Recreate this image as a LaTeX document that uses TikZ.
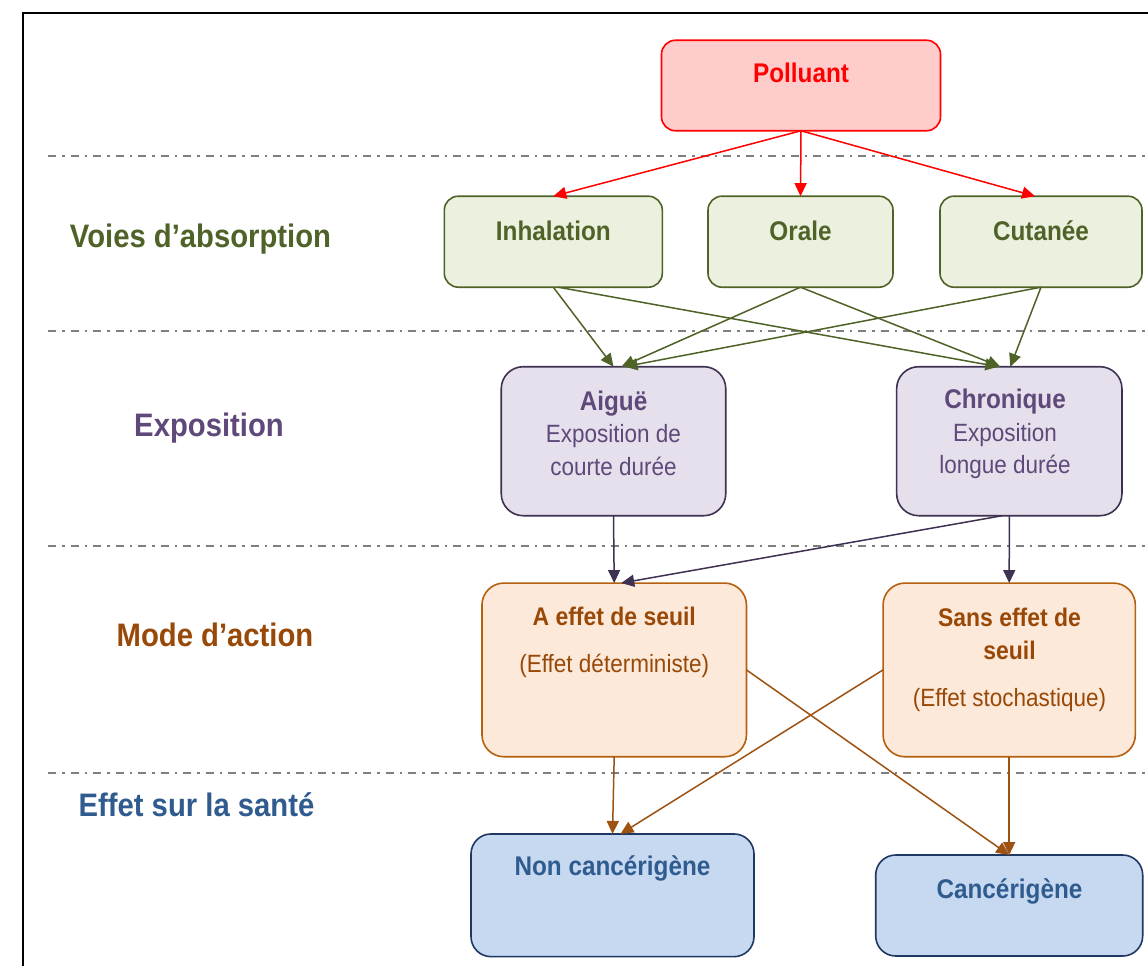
\documentclass[tikz,border=0pt]{standalone}
\usepackage{fontspec}
\setmainfont{Liberation Sans}[FakeStretch=0.9]
\usetikzlibrary{arrows.meta,calc}

% palette
\definecolor{polRed}{HTML}{FF0000}
\definecolor{polFill}{HTML}{FFCCCC}
\definecolor{voieLine}{HTML}{4F6228}
\definecolor{voieFill}{HTML}{EBF1DE}
\definecolor{expoLine}{HTML}{3F3151}
\definecolor{expoText}{HTML}{5F497A}
\definecolor{expoFill}{HTML}{E5E0EC}
\definecolor{modeLine}{HTML}{B4600F}
\definecolor{modeText}{HTML}{984807}
\definecolor{modeArrow}{HTML}{9E5212}
\definecolor{modeFill}{HTML}{FDE9D9}
\definecolor{santeLine}{HTML}{1F3864}
\definecolor{santeText}{HTML}{2F5B8F}
\definecolor{santeFill}{HTML}{C6D9F1}
\definecolor{sepGray}{HTML}{7F7F7F}

\begin{document}
\begin{tikzpicture}[x=1pt,y=-1pt,
  card/.style={draw, line width=1.6pt, inner sep=0pt, outer sep=0pt},
  polbox/.style={card, draw=polRed, fill=polFill, rounded corners=14pt},
  voiebox/.style={card, draw=voieLine, fill=voieFill, rounded corners=14pt},
  expobox/.style={card, draw=expoLine, fill=expoFill, rounded corners=22pt},
  modebox/.style={card, draw=modeLine, fill=modeFill, rounded corners=22pt},
  santebox/.style={card, draw=santeLine, fill=santeFill, rounded corners=20pt},
  boldtxt/.style={inner sep=0pt, anchor=base, align=center,
    font=\fontsize{27}{32.5}\selectfont\bfseries},
  % multi-line texts: the base anchor sits on the last line
  bodytxt/.style={inner sep=0pt, anchor=base, align=center,
    font=\fontsize{25}{32.5}\selectfont},
  rowtitle/.style={inner sep=0pt, anchor=base,
    font=\fontsize{32.5}{38}\selectfont\bfseries},
  sepline/.style={draw=sepGray, line width=2.2pt,
    dash pattern=on 8pt off 6pt on 2.5pt off 6pt},
  link/.style={line width=1.5pt, -{Triangle[length=13pt,width=12pt]}},
]
\fill[white] (0,0) rectangle (1148,966);
\useasboundingbox (0,0) rectangle (1148,966);

% outer frame (left and top edges)
\draw[line width=1.8pt] (22.7,966) -- (22.7,12.7) -- (1148,12.7);

% row separators
\foreach \yy in {155.7,331,545.7,773.3}
  \draw[sepline] (48,\yy) -- (1148,\yy);

% row titles
\node[rowtitle, text=voieLine] (tVoies) at (200.5,247.3) {Voies d’absorption};
\node[rowtitle, text=expoText] (tExpo) at (209,436) {Exposition};
\node[rowtitle, text=modeText] (tMode) at (215,646.7) {Mode d’action};
\node[rowtitle, text=santeText] (tSante) at (196.5,816.7) {Effet sur la santé};

% boxes
\node[polbox, minimum width=279pt, minimum height=90.5pt] (pol) at (801,85.5) {};
\node[voiebox, minimum width=218pt, minimum height=91pt] (inh) at (553.3,241.7) {};
\node[voiebox, minimum width=185pt, minimum height=91pt] (ora) at (800.5,241.7) {};
\node[voiebox, minimum width=202pt, minimum height=91pt] (cut) at (1041,241.7) {};
\node[expobox, minimum width=224.5pt, minimum height=149pt] (aig) at (613.5,441.2) {};
\node[expobox, minimum width=225.3pt, minimum height=149pt] (chr) at (1009.3,441.2) {};
\node[modebox, minimum width=264.5pt, minimum height=173.7pt] (aef) at (614.2,669.9) {};
\node[modebox, minimum width=252.3pt, minimum height=173.7pt] (sef) at (1009.2,669.9) {};
\node[santebox, minimum width=283pt, minimum height=122.7pt] (nonc) at (612.5,895.3) {};
\node[santebox, minimum width=267pt, minimum height=101pt] (canc) at (1009.2,905.5) {};

% box texts
\node[boldtxt, text=polRed] (polT) at (801,82) {Polluant};
\node[boldtxt, text=voieLine] (inhT) at (553.3,240.7) {Inhalation};
\node[boldtxt, text=voieLine] (oraT) at (800.5,240.7) {Orale};
\node[boldtxt, text=voieLine] (cutT) at (1041,240.7) {Cutanée};
\node[bodytxt, text=expoText] (aigT) at (613.5,475)
  {{\fontsize{27}{32.5}\selectfont\bfseries Aiguë}\\Exposition de\\courte durée};
\node[bodytxt, text=expoText] (chrT) at (1005,473.5)
  {{\fontsize{27}{32.5}\selectfont\bfseries Chronique}\\Exposition\\longue durée};
\node[bodytxt, text=modeText] (aefT) at (614.2,672)
  {{\fontsize{25.5}{32.5}\selectfont\bfseries A effet de seuil}\\[14.5pt](Effet déterministe)};
\node[bodytxt, text=modeText] (sefT) at (1009.5,706.7)
  {{\fontsize{25.5}{32.5}\selectfont\bfseries Sans effet de}\\{\fontsize{25.5}{32.5}\selectfont\bfseries seuil}\\[15pt](Effet stochastique)};
\node[boldtxt, text=santeText] (noncT) at (612.5,875) {Non cancérigène};
\node[boldtxt, text=santeText] (cancT) at (1009.5,898) {Cancérigène};

% pollutant to absorption routes
\draw[link, draw=polRed, fill=polRed] (pol.south) -- (inh.north);
\draw[link, draw=polRed, fill=polRed] (pol.south) -- (ora.north);
\draw[link, draw=polRed, fill=polRed] (pol.south) -- ($(cut.north)+(-6,0)$);

% absorption routes to exposure types
\draw[link, draw=voieLine, fill=voieLine] (inh.south) -- (aig.north);
\draw[link, draw=voieLine, fill=voieLine] ($(inh.south)+(5,0)$) -- ($(chr.north)+(-11,0)$);
\draw[link, draw=voieLine, fill=voieLine] (ora.south) -- ($(aig.north)+(8,0)$);
\draw[link, draw=voieLine, fill=voieLine] (ora.south) -- ($(chr.north)+(-9,0)$);
\draw[link, draw=voieLine, fill=voieLine] (cut.south) -- ($(aig.north)+(11,0)$);
\draw[link, draw=voieLine, fill=voieLine] (cut.south) -- ($(chr.north)+(1,0)$);

% exposure types to modes of action
\draw[link, draw=expoLine, fill=expoLine] (aig.south) -- (aef.north);
\draw[link, draw=expoLine, fill=expoLine] ($(chr.south)+(-7,0)$) -- ($(aef.north)+(7,0)$);
\draw[link, draw=expoLine, fill=expoLine] (chr.south) -- (sef.north);

% modes of action to health effects
\draw[link, draw=modeArrow, fill=modeArrow] (aef.south) -- (nonc.north);
\draw[link, draw=modeArrow, fill=modeArrow] (sef.west) -- ($(nonc.north)+(8,0)$);
\draw[link, draw=modeArrow, fill=modeArrow] (aef.east) -- (canc.north);
\draw[link, draw=modeArrow, fill=modeArrow] (sef.south) -- (canc.north);
\end{tikzpicture}
\end{document}
